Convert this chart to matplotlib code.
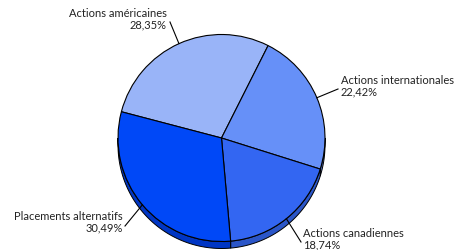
import numpy as np
import matplotlib
matplotlib.use('Agg')
import matplotlib.pyplot as plt

categories = ['Actions américaines', 'Actions internationales', 'Actions canadiennes', 'Placements alternatifs']
values = [28.35, 22.42, 18.74, 30.49]
top_colors = ['#99b4f8', '#6690f8', '#3366f2', '#0048f7']
side_colors = ['#7a90c8', '#5073cc', '#2b56c8', '#0036c4']

# position des étiquettes (pixels) : x, y, alignement, bout de la ligne de rappel
label_pos = [(167, 19, 'right', (170, 22)), (341, 86, 'left', (338, 89)),
             (303, 239, 'left', (301, 242)), (123, 222, 'right', (125, 226))]

W, H = 456, 250
cx, cy, r = 221.5, H - 138, 103.5
depth = 7
start = 165.3

fig = plt.figure(figsize=(W / 100, H / 100), dpi=100)
ax = fig.add_axes([0, 0, 1, 1])

# côté (épaisseur) du camembert
frac = np.array(values) / sum(values) * 360
bords = start - np.concatenate([[0], np.cumsum(frac)])
for i in range(len(values)):
    t2, t1 = bords[i], bords[i + 1]
    # partie de la tranche dans la moitié inférieure
    for a0, a1 in [(180, 360), (-180, 0)]:
        s0, s1 = max(t1, a0), min(t2, a1)
        if s1 <= s0:
            continue
        t = np.radians(np.linspace(s0, s1, 60))
        xs = cx + r * np.cos(t)
        ys = cy + r * np.sin(t)
        px = np.concatenate([xs, xs[::-1]])
        py = np.concatenate([ys, ys[::-1] - depth])
        ax.fill(px, py, color=side_colors[i], ec='black', lw=0.7, zorder=1)

wedges, _ = ax.pie(values, colors=top_colors, startangle=start, counterclock=False,
                   center=(cx, cy), radius=r, frame=True,
                   wedgeprops=dict(edgecolor='black', linewidth=0.8))
for w in wedges:
    w.set_zorder(2)
ax.set_xlim(0, W)
ax.set_ylim(0, H)
ax.set_aspect('equal')
ax.axis('off')

for i, w in enumerate(wedges):
    mid = np.radians((w.theta1 + w.theta2) / 2)
    ex, ey = cx + r * np.cos(mid), cy + r * np.sin(mid)
    tx, ty, ha, (lx, ly) = label_pos[i]
    txt = categories[i] + '\n' + f'{values[i]:.2f}%'.replace('.', ',')
    ax.text(tx, H - ty, txt, ha=ha, va='center', multialignment=ha,
            fontsize=8, family=['Lato', 'DejaVu Sans'], color='#222222',
            linespacing=1.05, zorder=3)
    ax.plot([ex, lx], [ey, H - ly], color='black', lw=0.8, zorder=3)

fig.savefig('out.png', dpi=100)
